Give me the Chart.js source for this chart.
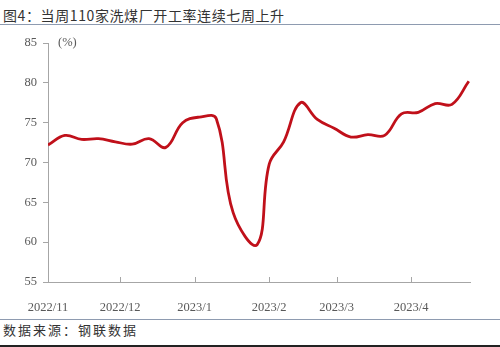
<!DOCTYPE html>
<html>
<head>
<meta charset="utf-8">
<script src="https://cdn.jsdelivr.net/npm/chart.js@4/dist/chart.umd.min.js"></script>
<style>
  html, body { margin: 0; padding: 0; background: #fff; }
  #wrap { position: relative; width: 500px; height: 347px; overflow: hidden; }
  #title {
    position: absolute; left: 3px; top: 5px;
    font: 14px 'Noto Sans CJK SC', sans-serif; color: #333;
    letter-spacing: 0.6px; white-space: nowrap;
  }
  #rule1 { position: absolute; left: 0; top: 24px; width: 500px; height: 1px; background: #8e9bb0; }
  #box { position: absolute; left: 0; top: 26px; width: 500px; height: 292px; }
  #rule2 { position: absolute; left: 0; top: 319px; width: 500px; height: 1px; background: #8e9bb0; }
  #source {
    position: absolute; left: 3px; top: 320px;
    font: 13px 'Noto Sans CJK SC', sans-serif; color: #333;
    letter-spacing: 2px; white-space: nowrap;
  }
  #rule3 { position: absolute; left: 0; top: 345px; width: 500px; height: 2px; background: #222; }
</style>
</head>
<body>
<div id="wrap">
  <div id="title">图4：当周110家洗煤厂开工率连续七周上升</div>
  <div id="rule1"></div>
  <div id="box"><canvas id="c"></canvas></div>
  <div id="rule2"></div>
  <div id="source">数据来源：钢联数据</div>
  <div id="rule3"></div>
</div>
<script>
// weekly observation dates and utilisation (%)
const dates = [
  '2022-11-01', '2022-11-08', '2022-11-15', '2022-11-22', '2022-11-29',
  '2022-12-06', '2022-12-13', '2022-12-20', '2022-12-27',
  '2023-01-03', '2023-01-10', '2023-01-17', '2023-01-27',
  '2023-02-01', '2023-02-07', '2023-02-14', '2023-02-21', '2023-02-28',
  '2023-03-07', '2023-03-14', '2023-03-21', '2023-03-28',
  '2023-04-04', '2023-04-11', '2023-04-18', '2023-04-25'
];
const rates = [
  72.2, 73.4, 72.9, 73.0, 72.6,
  72.3, 73.0, 71.9, 75.0,
  75.7, 75.5, 63.7, 59.7,
  69.8, 72.6, 77.5, 75.4, 74.3,
  73.2, 73.5, 73.4, 76.1,
  76.3, 77.4, 77.3, 80.2
];
const monthTicks = ['2022-11-01', '2022-12-01', '2023-01-01', '2023-02-01', '2023-03-01', '2023-04-01'];
const monthLabels = ['2022/11', '2022/12', '2023/1', '2023/2', '2023/3', '2023/4'];

const ORIGIN = Date.UTC(2022, 10, 1);
const dayOf = s => {
  const [y, m, d] = s.split('-').map(Number);
  return (Date.UTC(y, m - 1, d) - ORIGIN) / 86400000;
};
const tickDays = monthTicks.map(dayOf);

const AXIS = '#a6a6a6';
const TEXT = '#595959';
const SERIF = "'Liberation Serif', 'Times New Roman', serif";

// x ticks point up into the plot; "(%)" unit label at top of y axis
const extras = {
  id: 'extras',
  afterDraw(chart) {
    const { ctx, chartArea, scales } = chart;
    ctx.save();
    ctx.strokeStyle = AXIS;
    ctx.lineWidth = 1;
    tickDays.slice(1).forEach(d => {
      const x = Math.round(scales.x.getPixelForValue(d)) + 0.5;
      ctx.beginPath();
      ctx.moveTo(x, chartArea.bottom);
      ctx.lineTo(x, chartArea.bottom - 5);
      ctx.stroke();
    });
    ctx.fillStyle = TEXT;
    ctx.font = '12.5px ' + SERIF;
    ctx.textBaseline = 'middle';
    ctx.fillText('(%)', chartArea.left + 10, chartArea.top);
    ctx.restore();
  }
};

new Chart(document.getElementById('c'), {
  type: 'line',
  data: {
    datasets: [{
      data: dates.map((d, i) => ({ x: dayOf(d), y: rates[i] })),
      borderColor: '#c0101a',
      borderWidth: 2.8,
      pointRadius: 0,
      tension: 0.4,
      fill: false,
    }],
  },
  options: {
    responsive: true,
    maintainAspectRatio: false,
    animation: false,
    layout: { padding: { top: 17, right: 30, left: 0, bottom: 0 } },
    plugins: { legend: { display: false }, tooltip: { enabled: false } },
    scales: {
      x: {
        type: 'linear',
        min: 0,
        max: 175.5,
        afterBuildTicks: s => { s.ticks = tickDays.map(v => ({ value: v })); },
        afterFit: s => { s.height = 36; },
        grid: { display: false },
        border: { display: true, color: AXIS },
        ticks: {
          color: TEXT,
          padding: 10,
          maxRotation: 0,
          autoSkip: false,
          font: { family: SERIF, size: 12.5 },
          callback: v => monthLabels[tickDays.indexOf(v)],
        },
      },
      y: {
        min: 55,
        max: 85,
        afterFit: s => { s.width = 48; },
        grid: { drawOnChartArea: false, color: AXIS, tickLength: 5 },
        border: { display: true, color: AXIS },
        ticks: {
          stepSize: 5,
          color: TEXT,
          padding: 6,
          font: { family: SERIF, size: 12.5 },
        },
      },
    },
  },
  plugins: [extras],
});
</script>
</body>
</html>
